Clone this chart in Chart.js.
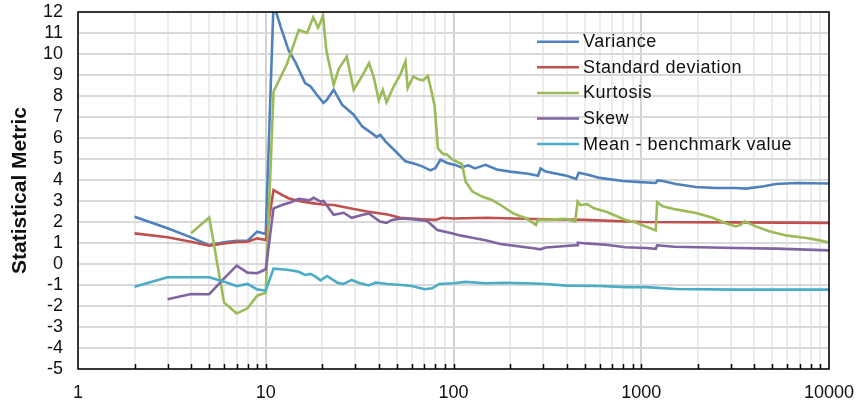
<!DOCTYPE html>
<html>
<head>
<meta charset="utf-8">
<title>Statistical metrics vs sample size</title>
<script src="https://cdn.jsdelivr.net/npm/chart.js@4.4.1/dist/chart.umd.min.js"></script>
<style>
  html, body { margin: 0; padding: 0; background: #fff; }
  #chart { display: block; }
</style>
</head>
<body>
<canvas id="chart" width="857" height="404"></canvas>
<script>
'use strict';
const FONT = 'Arial, "Liberation Sans", sans-serif';

const seriesNames = ['Variance', 'Standard deviation', 'Kurtosis', 'Skew', 'Mean - benchmark value'];
const seriesColors = ['#4f81bd', '#c0504d', '#9bbb59', '#8064a2', '#4bacc6'];

// each point is [sample size, metric]
const variance = [
	[2, 2.25], [3, 1.7], [4, 1.27], [5, 0.9], [6, 1.03], [7, 1.1], [8, 1.11], [9, 1.54], [10, 1.43],
	[11, 12.4], [12, 11.3], [13.2, 10.2], [14.4, 9.6], [16.2, 8.62], [17.3, 8.46], [18.7, 8.06],
	[20.3, 7.67], [21.2, 7.83], [23, 8.3], [25.5, 7.59], [29.4, 7.11], [32.6, 6.56], [37.6, 6.16],
	[39, 6.05], [40.8, 6.15], [43.4, 5.84], [49.1, 5.37], [55.5, 4.89], [62.7, 4.76], [68.1, 4.65],
	[75.4, 4.46], [80.2, 4.57], [85.2, 4.97], [92.5, 4.81], [102, 4.72], [110, 4.6], [120, 4.7],
	[130, 4.55], [148, 4.72], [170, 4.5], [200, 4.4], [250, 4.3], [282, 4.2], [291, 4.55], [310, 4.4],
	[400, 4.2], [450, 4.05], [465, 4.35], [520, 4.25], [600, 4.1], [800, 3.95], [1000, 3.9],
	[1195, 3.86], [1220, 3.98], [1300, 3.95], [1528, 3.81], [1954, 3.67], [2496, 3.62], [3191, 3.62],
	[3600, 3.59], [4500, 3.7], [5214, 3.81], [6665, 3.86], [10000, 3.83]
];
const stdDev = [
	[2, 1.46], [3, 1.27], [4, 1.06], [5, 0.87], [6, 0.98], [7, 1.05], [8, 1.06], [9, 1.22], [10, 1.14],
	[11, 3.52], [12.2, 3.29], [13.2, 3.13], [15, 3.0], [17.6, 2.9], [20, 2.83], [23, 2.81],
	[29.4, 2.62], [34.6, 2.5], [44.5, 2.36], [52, 2.2], [68, 2.13], [80, 2.1], [87, 2.2], [100, 2.17],
	[150, 2.2], [300, 2.13], [500, 2.1], [1000, 2.0], [3000, 1.98], [10000, 1.96]
];
const kurtosis = [
	[4, 1.46], [5, 2.21], [6, -1.84], [7, -2.35], [8, -2.11], [9, -1.51], [10, -1.37],
	[11, 8.2], [13, 9.55], [15, 11.15], [16.6, 11.0], [17.9, 11.75], [19, 11.25], [20.2, 11.82],
	[21, 10.2], [23, 8.53], [24.5, 9.3], [27, 9.88], [29.4, 8.3], [32.6, 8.95], [35.5, 9.57],
	[37.6, 8.9], [40, 7.8], [42, 8.3], [44, 7.7], [48, 8.45], [52, 9.0], [55.5, 9.65], [57, 8.38],
	[61, 8.93], [65, 8.8], [69, 8.75], [73, 8.95], [76, 8.3], [79.4, 7.5], [82.6, 5.5], [87.7, 5.25],
	[92.5, 5.2], [99, 4.97], [111, 4.75], [116, 3.93], [126, 3.45], [142, 3.21], [160, 3.05],
	[178, 2.81], [208, 2.41], [243, 2.18], [275, 1.86], [282, 2.1], [320, 2.1], [390, 2.15],
	[445, 2.03], [458, 2.97], [475, 2.8], [515, 2.85], [560, 2.65], [650, 2.49], [827, 2.1],
	[935, 1.98], [1195, 1.6], [1215, 2.94], [1300, 2.75], [1528, 2.6], [1954, 2.43], [2400, 2.2],
	[2800, 1.95], [3191, 1.79], [3400, 1.87], [3550, 2.03], [4079, 1.79], [4800, 1.56], [6000, 1.35],
	[7600, 1.24], [8520, 1.16], [10000, 1.03]
];
const skew = [
	[3, -1.68], [4, -1.43], [5, -1.44], [6, -0.68], [7, -0.08], [8, -0.41], [9, -0.44], [10, -0.25],
	[11, 2.65], [12.2, 2.81], [13.6, 2.94], [15, 3.1], [17, 3.03], [18, 3.15], [19.6, 2.97],
	[20.3, 3.0], [23, 2.34], [26, 2.44], [28.7, 2.2], [32.6, 2.33], [35.4, 2.41], [40.5, 2.02],
	[44, 1.96], [47, 2.1], [53, 2.17], [60, 2.13], [72.4, 2.05], [82, 1.62], [96.5, 1.48], [110, 1.35],
	[128, 1.24], [148, 1.13], [178, 0.95], [242, 0.8], [267, 0.75], [290, 0.7], [310, 0.79],
	[396, 0.86], [455, 0.9], [460, 1.02], [506, 0.98], [647, 0.92], [827, 0.8], [1057, 0.76],
	[1195, 0.72], [1215, 0.89], [1500, 0.82], [3191, 0.76], [5214, 0.73], [10000, 0.65]
];
const meanBias = [
	[2, -1.08], [3, -0.63], [4, -0.63], [5, -0.63], [6, -0.84], [7, -1.05], [8, -0.95], [9, -1.21], [10, -1.27],
	[11, -0.22], [13, -0.27], [15, -0.37], [16.2, -0.52], [17.3, -0.47], [18.4, -0.6], [19.6, -0.78],
	[21.2, -0.57], [24.2, -0.9], [26, -0.95], [28.7, -0.76], [31.2, -0.89], [35.4, -1.02], [38.5, -0.88],
	[44.5, -0.95], [53, -1.0], [60, -1.05], [70, -1.2], [77, -1.16], [84, -0.95], [100, -0.92],
	[116, -0.85], [148, -0.92], [189, -0.89], [267, -0.93], [310, -0.95], [400, -1.03], [600, -1.05],
	[827, -1.1], [1057, -1.1], [1528, -1.19], [3191, -1.22], [10000, -1.22]
];

const xTickLabels = ['1', '10', '100', '1000', '10000'];
const yMin = -5;
const yMax = 12;

// log axis ticks: 1..9 in every decade, labels only on the powers of ten
const decades = xTickLabels.map(Number);
const xTickValues = [];
decades.forEach((d, i) => {
	if (i === decades.length - 1) {
		xTickValues.push(d);
		return;
	}
	for (let k = 1; k <= 9; k++) xTickValues.push(d * k);
});

const allSeries = [variance, stdDev, kurtosis, skew, meanBias];

// legend drawn inside the plot, top right
const insideLegend = {
	id: 'insideLegend',
	afterDatasetsDraw(chart) {
		const { ctx, chartArea } = chart;
		const x0 = chartArea.right - 292;
		const y0 = chartArea.top + 29.7;
		ctx.save();
		ctx.font = '18px ' + FONT;
		if ('letterSpacing' in ctx) ctx.letterSpacing = '0.5px';
		ctx.textBaseline = 'middle';
		ctx.textAlign = 'left';
		chart.data.datasets.forEach((ds, i) => {
			const y = y0 + i * 25.6;
			ctx.strokeStyle = ds.borderColor;
			ctx.lineWidth = 2.5;
			ctx.beginPath();
			ctx.moveTo(x0, y);
			ctx.lineTo(x0 + 42, y);
			ctx.stroke();
			ctx.fillStyle = '#111';
			ctx.fillText(ds.label, x0 + 46, y + 0.5);
		});
		ctx.restore();
	}
};

// black frame round the plot and short inward ticks on the x axis
const plotFrame = {
	id: 'plotFrame',
	afterDraw(chart) {
		const { ctx, chartArea } = chart;
		const xs = chart.scales.x;
		ctx.save();
		ctx.strokeStyle = '#000';
		ctx.lineWidth = 1.5;
		ctx.strokeRect(chartArea.left, chartArea.top, chartArea.right - chartArea.left, chartArea.bottom - chartArea.top);
		ctx.beginPath();
		xTickValues.slice(1, -1).forEach((v) => {
			const px = Math.round(xs.getPixelForValue(v)) + 0.5;
			ctx.moveTo(px, chartArea.bottom);
			ctx.lineTo(px, chartArea.bottom - 5);
		});
		ctx.stroke();
		ctx.restore();
	}
};

new Chart(document.getElementById('chart'), {
	type: 'line',
	data: {
		datasets: allSeries.map((pts, i) => ({
			label: seriesNames[i],
			data: pts.map(([x, y]) => ({ x, y })),
			borderColor: seriesColors[i],
			backgroundColor: seriesColors[i],
			borderWidth: 2.6,
			pointRadius: 0,
			tension: 0,
			fill: false,
			order: allSeries.length - i
		}))
	},
	options: {
		responsive: false,
		animation: false,
		devicePixelRatio: 1,
		layout: { autoPadding: false, padding: { left: 0, right: 28, top: 12, bottom: 0 } },
		plugins: {
			legend: { display: false },
			tooltip: { enabled: false }
		},
		scales: {
			x: {
				type: 'logarithmic',
				min: 1,
				max: 10000,
				afterBuildTicks(scale) {
					scale.ticks = xTickValues.map((v) => ({ value: v }));
				},
				afterFit(scale) {
					scale.height = 35;
				},
				border: { display: false },
				grid: {
					drawTicks: true,
					tickLength: 13,
					tickColor: 'rgba(0,0,0,0)',
					lineWidth: 2,
					color: (c) => (c.tick && decades.includes(c.tick.value) ? '#d2d2d2' : '#ececec')
				},
				ticks: {
					autoSkip: false,
					maxRotation: 0,
					padding: 0,
					color: '#111',
					font: { family: FONT, size: 18 },
					callback: (value) => {
						const i = decades.indexOf(value);
						return i >= 0 ? xTickLabels[i] : '';
					}
				}
			},
			y: {
				type: 'linear',
				min: yMin,
				max: yMax,
				afterFit(scale) {
					scale.width = 78;
				},
				border: { display: false },
				grid: {
					drawTicks: true,
					tickLength: 15,
					tickColor: 'rgba(0,0,0,0)',
					lineWidth: 2,
					color: '#d9d9d9'
				},
				ticks: {
					stepSize: 1,
					autoSkip: false,
					padding: 0,
					color: '#111',
					font: { family: FONT, size: 18 }
				},
				title: {
					display: true,
					text: 'Statistical Metric',
					color: '#111',
					padding: { top: 8, bottom: 0 },
					font: { family: FONT, size: 21, weight: 'bold' }
				}
			}
		}
	},
	plugins: [insideLegend, plotFrame]
});
</script>
</body>
</html>
